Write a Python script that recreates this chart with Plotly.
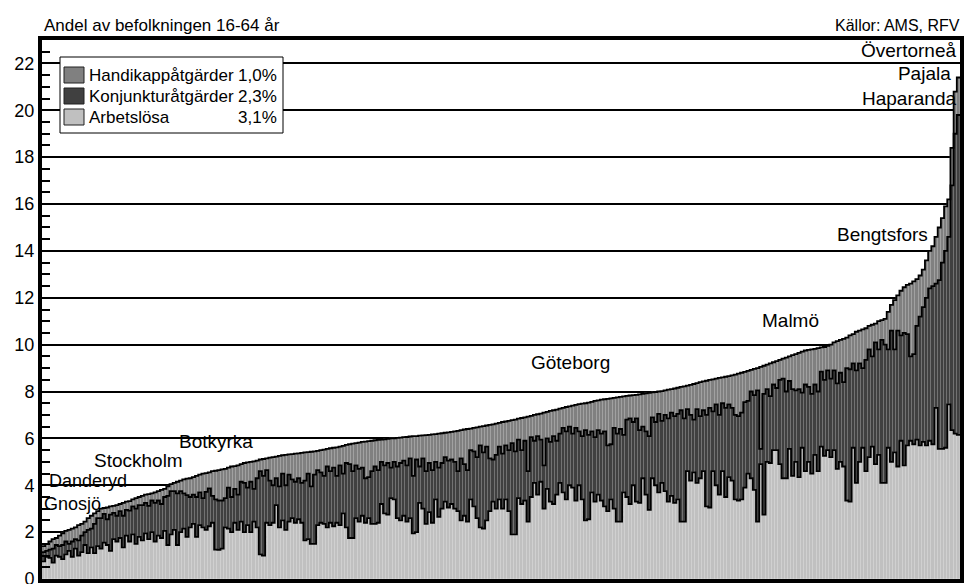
import numpy as np
import plotly.graph_objects as go

# Andel av befolkningen 16-64 år, kommuner sorterade efter total andel
arbetslosa = [
    0.75, 0.95, 0.9, 0.7, 1.0, 0.95, 0.85, 1.05,
    1.2, 0.95, 1.3, 1.0, 1.15, 1.45, 1.1, 1.35,
    1.1, 1.4, 1.3, 1.55, 1.45, 1.2, 1.7, 1.6,
    1.75, 1.35, 1.85, 1.6, 1.9, 1.5, 1.8, 1.65,
    1.95, 1.7, 2.0, 1.6, 1.85, 1.75, 2.05, 1.45,
    1.9, 2.1, 1.45, 2.0, 2.15, 1.8, 2.2, 2.35,
    1.8, 2.3, 2.2, 2.1, 2.25, 2.4, 1.25, 1.24,
    1.3, 2.2, 2.15, 2.0, 2.4, 2.1, 2.45, 2.0,
    2.3, 2.0, 2.45, 2.2, 1.05, 1.0, 2.4, 2.3,
    2.4, 3.15, 2.2, 2.5, 2.1, 2.45, 2.6, 2.4,
    2.55, 2.4, 1.65, 1.7, 1.5, 1.5, 2.3, 2.4,
    2.35, 2.2, 2.4, 2.25, 2.4, 2.3, 2.8, 2.2,
    1.75, 1.75, 2.6, 2.45, 2.7, 2.4, 2.6, 2.35,
    2.35, 2.4, 3.2, 2.8, 2.75, 3.45, 3.4, 2.6,
    2.5, 2.7, 2.45, 2.6, 1.95, 2.0, 3.25, 3.0,
    2.35, 2.85, 2.4, 3.4, 2.65, 3.0, 3.3, 3.05,
    3.2, 3.0, 2.9, 2.5, 2.7, 2.45, 3.4, 3.1,
    2.6, 2.2, 2.15, 2.5, 2.9, 3.3, 3.0, 3.4,
    3.0, 3.4, 2.9, 1.9, 1.9, 3.45, 3.2, 3.35,
    2.45, 3.5, 4.1, 3.6, 4.15, 3.0, 3.85, 3.3,
    3.2, 3.6, 4.1, 3.7, 3.4, 4.0, 3.9, 3.35,
    4.0, 3.4, 2.5, 2.55, 3.7, 3.3, 3.6, 3.35,
    3.1, 2.9, 3.4, 3.0, 2.45, 2.45, 3.7, 3.5,
    3.2, 4.0, 3.3, 3.25, 4.3, 3.6, 2.95, 4.3,
    4.0, 3.7, 4.1, 3.75, 3.3, 3.55, 3.25, 3.4,
    2.45, 2.45, 4.6, 4.2, 4.55, 4.1, 4.3, 4.6,
    3.1, 3.05, 4.6, 4.0, 3.6, 4.6, 3.5, 4.35,
    4.2, 3.4, 3.35, 3.4, 3.9, 4.5, 4.3, 3.8,
    2.45, 4.9, 2.75, 5.0, 4.95, 5.5, 5.5, 4.9,
    4.3, 4.3, 5.55, 4.4, 5.0, 4.35, 5.6, 4.6,
    5.0, 4.5, 5.3, 4.6, 5.65, 5.25, 5.5, 5.2,
    5.5, 4.7, 5.0, 4.8, 3.35, 3.3, 5.6, 4.1,
    5.0, 5.6, 4.6, 5.2, 5.65, 4.9, 5.3, 4.1,
    4.1, 5.6, 5.0, 5.4, 4.8, 5.9, 4.85, 5.7,
    5.9, 5.75, 5.95, 5.7, 5.85, 5.7, 5.9, 5.75,
    7.3, 5.55, 5.55, 5.6, 7.45, 6.35, 6.2, 6.15,
]

konjunktur = [
    0.4, 0.25, 0.35, 0.6, 0.45, 0.45, 0.6, 0.55,
    0.3, 0.65, 0.4, 0.65, 0.7, 0.55, 1.0, 0.8,
    1.25, 1.2, 1.3, 1.23, 1.1, 1.55, 1.12, 1.1,
    1.15, 1.35, 1.1, 1.32, 1.2, 1.5, 1.35, 1.5,
    1.3, 1.42, 1.35, 1.65, 1.5, 1.45, 1.45, 2.1,
    1.85, 1.65, 2.2, 1.75, 1.5, 1.78, 1.3, 1.25,
    1.7, 1.4, 1.25, 1.62, 1.62, 1.15, 2.15, 2.11,
    2.05, 1.25, 1.75, 1.5, 1.45, 1.5, 1.7, 2.1,
    1.6, 2.15, 1.4, 2.1, 3.55, 3.4, 2.25, 1.9,
    1.6, 1.15, 1.75, 2.0, 1.9, 2.0, 1.65, 1.75,
    1.75, 1.7, 2.55, 2.8, 2.45, 2.95, 2.35, 2.15,
    2.05, 2.6, 2.2, 2.5, 2.0, 2.55, 1.7, 2.75,
    3.15, 2.85, 2.25, 2.25, 2.05, 1.9, 1.75, 2.25,
    2.45, 2.25, 1.8, 2.05, 2.2, 1.3, 1.6, 2.2,
    2.45, 2.35, 2.4, 2.55, 2.45, 3.1, 1.55, 2.15,
    2.25, 2.1, 2.25, 1.6, 2.1, 1.95, 1.9, 2.0,
    1.9, 2.0, 1.7, 2.65, 2.2, 2.2, 2.1, 2.35,
    2.6, 3.5, 3.25, 3.15, 2.25, 1.8, 2.3, 2.25,
    2.35, 2.3, 2.6, 3.9, 3.55, 2.5, 2.3, 2.55,
    2.15, 2.55, 1.8, 2.5, 1.8, 1.85, 2.15, 2.55,
    2.9, 2.3, 2.1, 2.75, 2.9, 2.5, 2.3, 3.1,
    2.3, 2.7, 3.85, 3.6, 2.6, 2.75, 2.75, 2.85,
    3.2, 2.8, 2.35, 3.45, 3.75, 3.95, 2.45, 3.3,
    3.65, 2.7, 3.55, 3.1, 2.2, 2.7, 3.15, 2.6,
    2.7, 3.35, 2.65, 3.25, 3.55, 3.55, 3.7, 3.65,
    4.75, 4.4, 2.65, 2.8, 2.25, 3.15, 2.65, 2.6,
    3.9, 4.25, 2.55, 3.45, 3.4, 2.9, 3.8, 3.1,
    3.1, 3.6, 3.6, 3.7, 3.65, 3.1, 3.7, 4.05,
    5.6, 0.65, 5.15, 3.1, 2.85, 2.8, 2.65, 3.6,
    4.25, 3.7, 2.9, 3.7, 3.05, 3.75, 2.35, 3.7,
    3.2, 3.4, 3.0, 3.4, 3.2, 3.25, 3.4, 3.35,
    3.4, 3.65, 3.8, 3.6, 5.65, 5.65, 3.6, 4.8,
    4.2, 3.4, 4.75, 4.6, 3.85, 5.2, 4.5, 6.1,
    5.9, 4.2, 5.6, 4.4, 5.8, 4.5, 5.65, 4.75,
    3.6, 3.85, 4.85, 5.5, 5.75, 6.3, 6.5, 6.75,
    5.3, 7.2, 7.95, 8.4, 7.15, 10.45, 12.8, 13.65,
]

handikapp = [
    0.25, 0.3, 0.35, 0.4, 0.3, 0.45, 0.5, 0.45,
    0.6, 0.55, 0.5, 0.65, 0.5, 0.45, 0.5, 0.55,
    0.45, 0.3, 0.4, 0.25, 0.5, 0.35, 0.3, 0.45,
    0.3, 0.55, 0.35, 0.4, 0.3, 0.45, 0.35, 0.4,
    0.35, 0.5, 0.3, 0.45, 0.4, 0.6, 0.35, 0.4,
    0.3, 0.35, 0.5, 0.45, 0.6, 0.7, 0.8, 0.75,
    0.9, 0.75, 1.05, 0.8, 0.68, 1.05, 1.22, 1.3,
    1.33, 1.25, 0.85, 1.3, 0.97, 1.25, 0.75, 0.85,
    1.08, 0.85, 1.17, 0.75, 0.5, 0.72, 0.5, 0.98,
    1.2, 0.92, 1.3, 0.78, 1.3, 0.87, 1.08, 1.2,
    1.06, 1.28, 1.2, 0.91, 1.48, 1.0, 0.82, 0.95,
    1.12, 0.75, 0.98, 0.85, 1.22, 0.8, 1.18, 0.77,
    0.85, 1.18, 0.95, 1.12, 1.1, 1.56, 1.53, 1.3,
    1.12, 1.29, 0.95, 1.11, 1.03, 1.25, 1.0, 1.22,
    1.08, 1.0, 1.21, 0.93, 1.7, 1.0, 1.32, 0.98,
    1.54, 1.2, 1.52, 1.18, 1.45, 1.27, 1.04, 1.21,
    1.18, 1.3, 1.72, 1.2, 1.48, 1.75, 0.92, 1.0,
    1.27, 0.8, 1.12, 0.9, 1.43, 1.5, 1.33, 1.01,
    1.35, 1.02, 1.25, 0.98, 1.35, 0.89, 1.37, 1.0,
    2.33, 0.91, 1.1, 0.93, 1.11, 2.25, 1.13, 1.32,
    1.1, 1.33, 1.07, 0.85, 1.04, 0.87, 1.2, 0.98,
    1.16, 1.38, 1.15, 1.38, 1.26, 1.55, 1.27, 1.45,
    1.37, 1.99, 1.96, 1.28, 1.55, 1.37, 1.64, 1.01,
    0.98, 1.15, 1.01, 1.53, 1.4, 1.62, 1.84, 1.06,
    1.28, 0.95, 1.27, 1.05, 1.23, 1.0, 1.18, 1.11,
    1.0, 1.37, 1.0, 1.28, 1.52, 1.11, 1.45, 1.23,
    1.46, 1.2, 1.37, 1.1, 1.58, 1.1, 1.33, 1.21,
    1.39, 1.72, 1.81, 1.7, 1.29, 1.28, 0.92, 1.12,
    0.95, 3.5, 1.2, 1.05, 1.4, 0.95, 1.15, 0.85,
    0.85, 1.45, 1.05, 1.45, 1.55, 1.55, 1.75, 1.45,
    1.58, 1.9, 1.52, 1.85, 1.03, 1.4, 1.05, 1.45,
    1.2, 1.8, 1.4, 1.85, 1.3, 1.45, 1.25, 1.65,
    1.4, 1.65, 1.35, 1.0, 1.35, 0.8, 1.2, 0.85,
    1.1, 1.6, 1.1, 2.1, 1.5, 1.9, 1.95, 2.1,
    3.1, 3.1, 2.0, 1.75, 1.6, 1.6, 1.6, 1.7,
    2.0, 2.25, 1.9, 1.9, 1.6, 1.6, 1.8, 1.6,
]

serie_namn = ["Arbetslösa", "Konjunkturåtgärder", "Handikappåtgärder"]
serie_andel = ["3,1%", "2,3%", "1,0%"]
serie_farg = ["#c0c0c0", "#404040", "#808080"]
y_ticks = [0, 2, 4, 6, 8, 10, 12, 14, 16, 18, 20, 22]

# kommunetiketter
kommuner = ["\u00a0Danderyd<br>Gnosjö", "Stockholm", "Botkyrka", "Göteborg",
            "Malmö", "Bengtsfors", "Övertorneå", "Pajala\u00a0<br>Haparanda"]
kommun_x = [-0.5, 15.2, 41.9, 152.3, 224.8, 248.3, 286.9, 286.9]
kommun_y = [3.7, 5.04, 5.85, 9.22, 11.05, 14.68, 22.57, 21.05]
kommun_anchor = ["left"] * 6 + ["right"] * 2
kommun_size = [18, 19, 19, 19, 19, 19, 19, 19]

FONT = "Liberation Sans, Arial, sans-serif"
W, H = 964, 584
ML, MR, MT, MB = 42, 4, 40, 5
PW, PH = W - ML - MR, H - MT - MB


def px(x):
    return (x - ML) / PW


def py(y):
    return (H - MB - y) / PH


a = np.array(arbetslosa)
k = np.array(konjunktur)
h = np.array(handikapp)
n = len(a)
idx = np.arange(n)

fig = go.Figure()
for vals, name, col in zip([a, k, h], serie_namn, serie_farg):
    fig.add_bar(x=idx, y=vals, name=name,
                marker=dict(color=col, line=dict(width=0.4, color="rgba(255,255,255,0.35)")),
                showlegend=False, hoverinfo="skip")

xe = np.arange(n + 1) - 0.5
for lv in [a, a + k, a + k + h]:
    fig.add_scatter(x=xe, y=np.append(lv, lv[-1]), mode="lines",
                    line=dict(shape="hv", color="black", width=1.8),
                    showlegend=False, hoverinfo="skip")

shapes = []
annotations = []

# legend box
shapes.append(dict(type="rect", xref="paper", yref="paper", x0=px(60), x1=px(283),
                   y0=py(133), y1=py(57), line=dict(color="black", width=1),
                   fillcolor="white", layer="above"))
rows = [75, 96, 117]
order = [2, 1, 0]
for r, j in zip(rows, order):
    shapes.append(dict(type="rect", xref="paper", yref="paper", x0=px(64), x1=px(84),
                       y0=py(r + 8), y1=py(r - 8), line=dict(color="#202020", width=1),
                       fillcolor=serie_farg[j], layer="above"))
    annotations.append(dict(x=px(87), y=py(r), xref="paper", yref="paper", xanchor="left",
                            yanchor="middle", text=serie_namn[j], showarrow=False,
                            font=dict(size=17, family=FONT, color="black")))
    annotations.append(dict(x=px(279), y=py(r), xref="paper", yref="paper", xanchor="right",
                            yanchor="middle", text=serie_andel[j], showarrow=False,
                            font=dict(size=17, family=FONT, color="black")))

annotations.append(dict(x=px(42), y=py(26), xref="paper", yref="paper", xanchor="left",
                        yanchor="middle", text="Andel av befolkningen 16-64 år",
                        showarrow=False, font=dict(size=17, family=FONT, color="black")))
annotations.append(dict(x=px(962), y=py(26), xref="paper", yref="paper", xanchor="right",
                        yanchor="middle", text="Källor: AMS, RFV",
                        showarrow=False, font=dict(size=16, family=FONT, color="black")))

for name, xv, yv, anc, sz in zip(kommuner, kommun_x, kommun_y, kommun_anchor, kommun_size):
    annotations.append(dict(x=xv, y=yv, xref="x", yref="y", xanchor=anc, yanchor="middle",
                            text=name, showarrow=False, align=anc,
                            font=dict(size=sz, family=FONT, color="black")))

fig.update_layout(
    width=W, height=H,
    margin=dict(l=ML, r=MR, t=MT, b=MB, autoexpand=False),
    barmode="stack", bargap=0,
    plot_bgcolor="white", paper_bgcolor="white",
    font=dict(family=FONT, size=17, color="black"),
    showlegend=False,
    shapes=shapes, annotations=annotations,
    xaxis=dict(range=[-0.5, n - 0.5], showticklabels=False, ticks="", showgrid=False,
               automargin=False,
               zeroline=False, showline=True, linecolor="black", linewidth=4, mirror=True),
    yaxis=dict(range=[0, 23], tickmode="array", tickvals=y_ticks, ticks="inside",
               ticklen=8, tickwidth=2, tickcolor="black", showgrid=True, gridcolor="black",
               gridwidth=1.6, zeroline=False, showline=True, linecolor="black",
               linewidth=4, mirror=True, tickfont=dict(size=18, family=FONT),
               ticklabeloverflow="allow", automargin=False,
               minor=dict(tickmode="linear", tick0=0, dtick=0.5, ticks="inside", ticklen=8,
                          tickwidth=2, tickcolor="black", showgrid=False)),
)

fig.write_html("out.html", config={"displayModeBar": False},
               post_script="document.body.style.margin='0';")
